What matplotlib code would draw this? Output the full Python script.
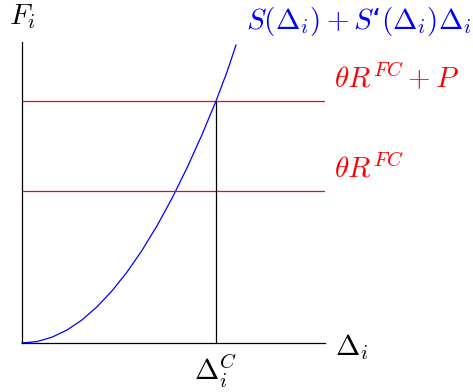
import matplotlib
matplotlib.use("Agg")
import matplotlib.pyplot as plt

plt.rcParams['mathtext.fontset'] = 'cm'

# data (axis units, origin at axes corner)
curve_x = [0, 15, 30, 45, 60, 75, 90, 105, 120, 135, 150, 165, 180, 194, 205, 214]
curve_y = [0, 1.45, 5.8, 13.0, 23.1, 36.2, 52.1, 70.9, 92.6, 117.2, 144.7, 175.1, 208.3, 242, 271, 298]
line_upper = 242   # theta R^FC + P
line_lower = 152   # theta R^FC
delta_c = 194
x_max = 303
y_max = 301

W, H = 473, 392
fig = plt.figure(figsize=(W / 100, H / 100), dpi=100)
ax = fig.add_axes([22 / W, (H - 343) / H, x_max / W, y_max / H])
ax.set_xlim(0, x_max)
ax.set_ylim(0, y_max)
for s in ['top', 'right']:
    ax.spines[s].set_visible(False)
for s in ['left', 'bottom']:
    ax.spines[s].set_linewidth(0.9)
ax.set_xticks([])
ax.set_yticks([])
ax.patch.set_alpha(0)

lw = 0.9
ax.plot(curve_x, curve_y, color='#0000ff', lw=lw, clip_on=False)
ax.plot([0, x_max], [line_upper, line_upper], color='#ff0000', lw=lw)
ax.plot([0, x_max], [line_lower, line_lower], color='#ff0000', lw=lw)
ax.plot([delta_c, delta_c], [0, line_upper], color='black', lw=lw)

fs = 21
ax.text(-13, 326, r'$F_i$', fontsize=fs, ha='left', va='center', clip_on=False)
ax.text(224, 322, r'$S(\Delta_i) + S$‘$(\Delta_i)\Delta_i$', fontsize=fs, color='#0000ff',
        ha='left', va='center', clip_on=False)
ax.text(312, 265, r'$\theta R^{FC} + P$', fontsize=fs, color='#ff0000', ha='left', va='center', clip_on=False)
ax.text(312, 174, r'$\theta R^{FC}$', fontsize=fs, color='#ff0000', ha='left', va='center', clip_on=False)
ax.text(313, -4, r'$\Delta_i$', fontsize=fs, ha='left', va='center', clip_on=False)
ax.text(delta_c, -10, r'$\Delta_i^C$', fontsize=fs, ha='center', va='top', clip_on=False)

fig.savefig('out.png', dpi=100, facecolor='white')
